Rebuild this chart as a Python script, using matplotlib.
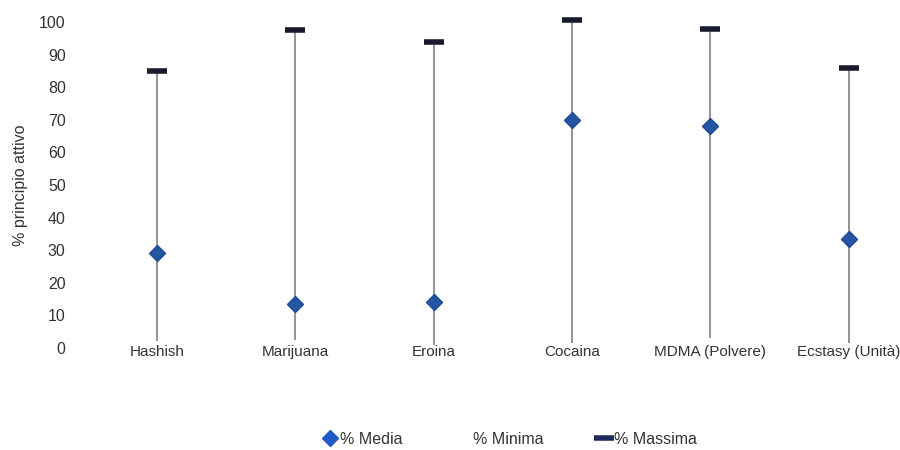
import numpy as np
import matplotlib.pyplot as plt
from matplotlib.lines import Line2D

plt.rcParams['font.family'] = ['Liberation Sans Narrow', 'Liberation Sans', 'DejaVu Sans']

categories = ['Hashish', 'Marijuana', 'Eroina', 'Cocaina', 'MDMA (Polvere)', 'Ecstasy (Unità)']
media = [29, 13.5, 14, 70, 68, 33.5]
minima = [2, 2.5, 1, 1.5, 3, 1.5]
massima = [85, 97.5, 94, 100.5, 98, 86]

x = np.arange(len(categories))

fig = plt.figure(figsize=(9, 4.5), dpi=100)
ax = fig.add_axes([0.093, 0.2267, 0.907, 0.7244])

# range line min -> max
ax.vlines(x, minima, massima, color='#8a8a8a', linewidth=1.3, zorder=1)
ax.plot(x, massima, linestyle='none', marker='_', markersize=14, mew=4,
        color='#1a1a2e', clip_on=False, zorder=3)
ax.plot(x, media, linestyle='none', marker='D', markersize=8.5,
        color='#2456a4', mec='#1c4a94', clip_on=False, zorder=4)

ax.set_xlim(-0.53, 5.37)
ax.set_ylim(0, 100)
ax.set_yticks(np.arange(0, 101, 10))
ax.set_xticks(x)
ax.set_xticklabels(categories)
ax.tick_params(axis='both', length=0, labelsize=11.5, colors='#333333')
ax.tick_params(axis='x', pad=-2, labelsize=11)
ax.tick_params(axis='y', pad=13)
for s in ax.spines.values():
    s.set_visible(False)

ax.set_ylabel('% principio attivo', fontsize=11.5, color='#333333', labelpad=8)

handles = [
    Line2D([], [], linestyle='none', marker='D', markersize=8, color='#1f5cc8'),
    Line2D([], [], linestyle='none', marker='None', color='none'),
    Line2D([], [], linestyle='none', marker='_', markersize=14, mew=4, color='#1f2a5c'),
]
fig.legend(handles, ['% Media', '% Minima', '% Massima'], loc='center',
           bbox_to_anchor=(0.566, 0.024), ncol=3, frameon=False, fontsize=11.5,
           handlelength=1.0, handletextpad=0.1, columnspacing=3.3,
           labelcolor='#333333')

fig.savefig('out.png', dpi=100)
